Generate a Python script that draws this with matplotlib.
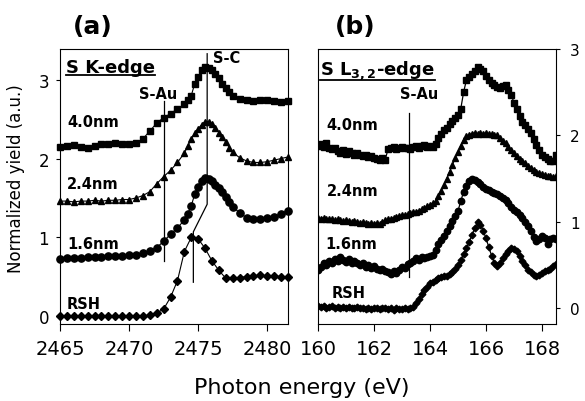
import numpy as np
import matplotlib
matplotlib.use("Agg")
import matplotlib.pyplot as plt
from matplotlib.lines import Line2D

plt.rcParams['font.family'] = ['DejaVu Sans']

# ---- panel (a): S K-edge ----
energy_k = [2465.0, 2465.5, 2466.0, 2466.5, 2467.0, 2467.5, 2468.0, 2468.5, 2469.0, 2469.5,
            2470.0, 2470.5, 2471.0, 2471.5, 2472.0, 2472.5, 2473.0, 2473.5, 2474.0,
            2474.25, 2474.5, 2474.75, 2475.0, 2475.25, 2475.5, 2475.75, 2476.0, 2476.25,
            2476.5, 2476.75, 2477.0, 2477.25,
            2477.5, 2478.0, 2478.5, 2479.0, 2479.5, 2480.0, 2480.5, 2481.0, 2481.5]
k_40nm = [2.15, 2.16, 2.17, 2.15, 2.14, 2.16, 2.18, 2.19, 2.20, 2.18,
          2.18, 2.20, 2.25, 2.35, 2.45, 2.52, 2.57, 2.63, 2.69,
          2.74, 2.80, 2.95, 3.03, 3.12, 3.16, 3.15, 3.12, 3.07,
          3.02, 2.95, 2.89, 2.84,
          2.80, 2.76, 2.74, 2.73, 2.74, 2.74, 2.73, 2.72, 2.73]
k_24nm = [1.46, 1.46, 1.45, 1.46, 1.46, 1.47, 1.46, 1.47, 1.47, 1.48,
          1.48, 1.50, 1.53, 1.58, 1.68, 1.77, 1.85, 1.95, 2.07,
          2.16, 2.25, 2.32, 2.38, 2.43, 2.47, 2.47, 2.44, 2.39,
          2.33, 2.27, 2.21, 2.14,
          2.08, 2.01, 1.97, 1.95, 1.95, 1.96, 1.98, 2.00, 2.02]
k_16nm = [0.73, 0.74, 0.74, 0.74, 0.75, 0.75, 0.75, 0.76, 0.76, 0.76,
          0.77, 0.78, 0.80, 0.83, 0.87, 0.95, 1.04, 1.12, 1.22,
          1.30, 1.40, 1.55, 1.64, 1.72, 1.75, 1.74, 1.71, 1.67,
          1.62, 1.57, 1.51, 1.45,
          1.39, 1.31, 1.25, 1.23, 1.23, 1.24, 1.26, 1.30, 1.34]
energy_k_rsh = np.arange(2465.0, 2482.0, 0.5)
k_rsh = [0.0, 0.0, 0.0, 0.0, 0.0, 0.0, 0.0, 0.0, 0.0, 0.0, 0.0, 0.0, 0.0,
         0.01, 0.04, 0.09, 0.24, 0.45, 0.82, 1.00, 0.98, 0.86, 0.70, 0.58,
         0.48, 0.48, 0.49, 0.50, 0.51, 0.52, 0.51, 0.51, 0.50, 0.50]

# ---- panel (b): S L3,2-edge ----
energy_l = np.round(np.arange(160.0, 168.55, 0.1), 1)
l_40nm = [1.88, 1.90, 1.87, 1.91, 1.86, 1.84, 1.86, 1.82, 1.80, 1.83,
          1.79, 1.82, 1.80, 1.78, 1.80, 1.77, 1.76, 1.78, 1.75, 1.76,
          1.74, 1.73, 1.72, 1.74, 1.72, 1.84, 1.85, 1.87, 1.84, 1.86,
          1.87, 1.85, 1.86, 1.84, 1.87, 1.88, 1.86, 1.88, 1.89, 1.87,
          1.88, 1.87, 1.90, 1.97, 2.02, 2.06, 2.09, 2.13, 2.17, 2.20,
          2.24, 2.31, 2.50, 2.64, 2.68, 2.71, 2.74, 2.79, 2.77, 2.74,
          2.69, 2.64, 2.61, 2.58, 2.56, 2.55, 2.57, 2.58, 2.53, 2.47,
          2.38, 2.31, 2.23, 2.16, 2.12, 2.07, 2.03, 1.96, 1.89, 1.83,
          1.78, 1.75, 1.73, 1.71, 1.70, 1.78]
l_24nm = [1.05, 1.04, 1.05, 1.03, 1.04, 1.03, 1.02, 1.03, 1.02, 1.01,
          1.02, 1.01, 1.00, 1.01, 1.00, 0.99, 1.00, 0.99, 0.98, 0.99,
          0.98, 0.99, 0.98, 1.00, 1.02, 1.03, 1.04, 1.05, 1.06, 1.07,
          1.08, 1.08, 1.09, 1.10, 1.11, 1.12, 1.13, 1.15, 1.16, 1.18,
          1.20, 1.22, 1.24, 1.30, 1.36, 1.43, 1.50, 1.58, 1.66, 1.74,
          1.81, 1.88, 1.95, 1.99, 2.01, 2.02, 2.03, 2.02, 2.03, 2.02,
          2.03, 2.02, 2.02, 2.01, 2.00, 1.97, 1.94, 1.91, 1.87, 1.83,
          1.80, 1.76, 1.73, 1.70, 1.68, 1.65, 1.62, 1.60, 1.58, 1.57,
          1.55, 1.54, 1.53, 1.53, 1.52, 1.53]
l_16nm = [0.45, 0.48, 0.52, 0.50, 0.55, 0.53, 0.57, 0.55, 0.60, 0.56,
          0.54, 0.57, 0.52, 0.55, 0.53, 0.50, 0.52, 0.48, 0.50, 0.47,
          0.49, 0.46, 0.44, 0.46, 0.43, 0.42, 0.40, 0.43, 0.41, 0.45,
          0.48, 0.47, 0.51, 0.52, 0.55, 0.58, 0.56, 0.59, 0.58, 0.60,
          0.61, 0.62, 0.68, 0.74, 0.79, 0.84, 0.89, 0.95, 1.01, 1.07,
          1.13, 1.24, 1.35, 1.42, 1.47, 1.50, 1.48, 1.46, 1.44, 1.40,
          1.38, 1.37, 1.35, 1.33, 1.32, 1.30, 1.28, 1.25, 1.22, 1.17,
          1.14, 1.11, 1.08, 1.05, 1.00, 0.95, 0.90, 0.83, 0.78, 0.80,
          0.84, 0.82, 0.74, 0.80, 0.82, 0.80]
l_rsh = [0.03, 0.02, 0.03, 0.01, 0.02, 0.03, 0.01, 0.02, 0.00, 0.02,
         0.01, 0.02, 0.00, 0.01, 0.02, 0.00, 0.01, -0.01, 0.00, -0.01,
         0.01, 0.00, -0.01, 0.00, 0.01, -0.01, 0.00, -0.02, 0.00, -0.01,
         -0.01, 0.00, -0.01, 0.00, 0.02, 0.06, 0.11, 0.17, 0.21, 0.25,
         0.29, 0.31, 0.33, 0.35, 0.36, 0.37, 0.38, 0.40, 0.42, 0.46,
         0.50, 0.56, 0.63, 0.70, 0.77, 0.85, 0.93, 1.00, 0.97, 0.90,
         0.81, 0.71, 0.61, 0.53, 0.49, 0.53, 0.58, 0.63, 0.67, 0.70,
         0.69, 0.66, 0.61, 0.55, 0.50, 0.45, 0.42, 0.39, 0.38, 0.39,
         0.41, 0.43, 0.44, 0.46, 0.49, 0.51]

fig = plt.figure(figsize=(5.85, 4.02), dpi=100)
ax1 = fig.add_axes([0.1026, 0.1915, 0.3897, 0.6841])
ax2 = fig.add_axes([0.5436, 0.1915, 0.4068, 0.6841])

# panel (a)
ax1.plot(energy_k, k_40nm, 'k-', marker='s', ms=3.8, lw=0.8, clip_on=False)
ax1.plot(energy_k, k_24nm, 'k-', marker='^', ms=4.5, lw=0.8, clip_on=False)
ax1.plot(energy_k, k_16nm, 'k-', marker='o', ms=5.2, lw=0.8, clip_on=False)
ax1.plot(energy_k_rsh, k_rsh, 'k-', marker='D', ms=4.2, lw=0.8, clip_on=False)
ax1.plot([2472.55, 2472.55], [0.70, 2.73], 'k-', lw=0.9)
ax1.plot([2475.65, 2475.65, 2474.65, 2474.65], [3.33, 1.42, 1.07, 0.43], 'k-', lw=0.9)
ax1.set_xlim(2465, 2481.5)
ax1.set_ylim(-0.1, 3.39)
ax1.set_xticks([2465, 2470, 2475, 2480])
ax1.set_yticks([0, 1, 2, 3])
ax1.tick_params(axis='x', direction='out', length=5, width=0.8, labelsize=14, pad=6)
ax1.tick_params(axis='y', direction='out', length=3, width=0.8, labelsize=12, pad=5)

bold = dict(fontweight='bold', color='k')
t1 = ax1.text(2465.45, 3.10, 'S K-edge', fontsize=13, **bold)
ax1.text(2465.5, 2.41, '4.0nm', fontsize=10.5, **bold)
ax1.text(2465.5, 1.63, '2.4nm', fontsize=10.5, **bold)
ax1.text(2465.5, 0.86, '1.6nm', fontsize=10.5, **bold)
ax1.text(2465.5, 0.10, 'RSH', fontsize=10.5, **bold)
ax1.text(2470.75, 2.77, 'S-Au', fontsize=10.5, **bold)
ax1.text(2476.05, 3.22, 'S-C', fontsize=10.5, **bold)

# panel (b)
ax2.plot(energy_l, l_40nm, 'k-', marker='s', ms=3.8, lw=0.9)
ax2.plot(energy_l, l_24nm, 'k-', marker='^', ms=4.0, lw=0.9)
ax2.plot(energy_l, l_16nm, 'k-', marker='o', ms=4.6, lw=0.9)
ax2.plot(energy_l, l_rsh, 'k-', marker='D', ms=3.4, lw=0.9)
ax2.plot([163.25, 163.25], [0.36, 2.26], 'k-', lw=0.9)
ax2.set_xlim(160, 168.5)
ax2.set_ylim(-0.18, 3.0)
ax2.set_xticks([160, 162, 164, 166, 168])
ax2.set_yticks([0, 1, 2, 3])
ax2.yaxis.tick_right()
ax2.tick_params(axis='x', direction='out', length=5, width=0.8, labelsize=14, pad=6)
ax2.tick_params(axis='y', direction='out', length=3, width=0.8, labelsize=11, pad=7)

t2 = ax2.text(160.07, 2.71, r'S L$\mathbf{_{3,2}}$-edge', fontsize=13, **bold)
ax2.text(160.3, 2.08, '4.0nm', fontsize=10.5, **bold)
ax2.text(160.3, 1.31, '2.4nm', fontsize=10.5, **bold)
ax2.text(160.25, 0.70, '1.6nm', fontsize=10.5, **bold)
ax2.text(160.5, 0.13, 'RSH', fontsize=10.5, **bold)
ax2.text(162.93, 2.43, 'S-Au', fontsize=10.5, **bold)

for ax in (ax1, ax2):
    for sp in ax.spines.values():
        sp.set_linewidth(0.8)

fig.text(0.125, 0.915, '(a)', fontsize=18, fontweight='bold')
fig.text(0.572, 0.915, '(b)', fontsize=18, fontweight='bold')
fig.text(0.515, 0.02, 'Photon energy (eV)', fontsize=16, ha='center', va='baseline')
fig.text(0.027, 0.555, 'Normalized yield (a.u.)', fontsize=12, rotation=90,
         ha='center', va='center')

# underline the edge labels
fig.canvas.draw()
inv = fig.transFigure.inverted()
for t in (t1, t2):
    bb = t.get_window_extent()
    (x0, y0), (x1, y1) = inv.transform([[bb.x0, bb.y0], [bb.x1, bb.y1]])
    fig.add_artist(Line2D([x0, x1], [y0 + 0.003, y0 + 0.003], color='k', lw=1.3))

fig.savefig('out.png', dpi=100)
